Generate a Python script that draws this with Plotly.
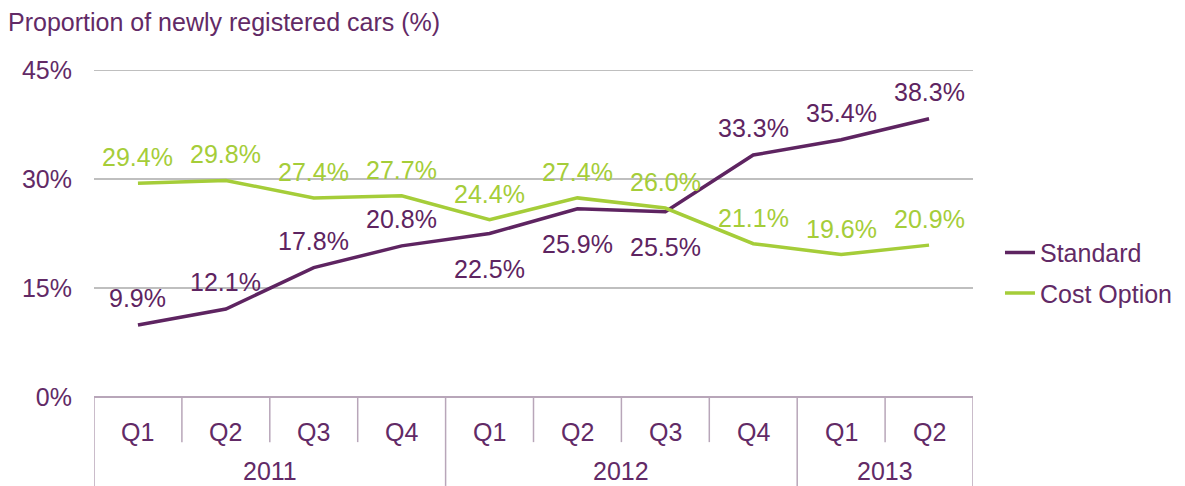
import plotly.graph_objects as go

quarters = ["Q1", "Q2", "Q3", "Q4", "Q1", "Q2", "Q3", "Q4", "Q1", "Q2"]
years = ["2011", "2012", "2013"]
year_spans = [(0, 3), (4, 7), (8, 9)]
standard = [9.9, 12.1, 17.8, 20.8, 22.5, 25.9, 25.5, 33.3, 35.4, 38.3]
cost_option = [29.4, 29.8, 27.4, 27.7, 24.4, 27.4, 26.0, 21.1, 19.6, 20.9]
standard_label_above = [True, True, True, True, False, False, False, True, True, True]
y_ticks = [0, 15, 30, 45]

PURPLE = "#5E2461"
GREEN = "#A5CD39"
TEXT = "#622A66"
SEP = "#B8A6B9"
GRID = "#BFBFBF"
FONT = "Liberation Sans, Arial, sans-serif"
FS = 25

# page body has an 8px default margin; size the figure to fit the window
W, H = 1177, 478

x = list(range(len(quarters)))

fig = go.Figure()
fig.add_trace(go.Scatter(x=x, y=standard, mode="lines", name="Standard", legendgroup="s",
                         line=dict(color=PURPLE, width=3.5)))
fig.add_trace(go.Scatter(x=x, y=cost_option, mode="lines", name="Cost Option", legendgroup="c",
                         line=dict(color=GREEN, width=3.5)))

ann = []
for xi, v, up in zip(x, standard, standard_label_above):
    ann.append(dict(x=xi, y=v, text=f"{v:.1f}%", showarrow=False, yanchor="middle",
                    yshift=27 if up else -35, font=dict(size=FS, color=PURPLE, family=FONT)))
for xi, v in zip(x, cost_option):
    ann.append(dict(x=xi, y=v, text=f"{v:.1f}%", showarrow=False, yanchor="middle",
                    yshift=26, font=dict(size=FS, color=GREEN, family=FONT)))

# category axis labels
for xi, q in zip(x, quarters):
    ann.append(dict(x=xi, y=-0.107, yref="paper", text=q, showarrow=False, yanchor="middle",
                    font=dict(size=FS, color=TEXT, family=FONT)))
for yr, (a, b) in zip(years, year_spans):
    ann.append(dict(x=(a + b) / 2, y=-0.226, yref="paper", text=yr, showarrow=False,
                    yanchor="middle", font=dict(size=FS, color=TEXT, family=FONT)))

shapes = []
shapes.append(dict(type="line", xref="paper", yref="y", x0=0, x1=1, y0=y_ticks[-1], y1=y_ticks[-1],
                   line=dict(color=GRID, width=2)))
year_bounds = {-0.5} | {b + 0.5 for _, b in year_spans}
for i in range(len(quarters) + 1):
    xb = i - 0.5
    y1 = -0.272 if xb in year_bounds else -0.138
    shapes.append(dict(type="line", xref="x", yref="paper", x0=xb, x1=xb, y0=0, y1=y1,
                       line=dict(color=SEP, width=1.5)))
shapes.append(dict(type="line", xref="x", yref="paper", x0=-0.5, x1=len(quarters) - 0.5,
                   y0=0, y1=0, line=dict(color=SEP, width=2)))

fig.update_layout(
    width=W, height=H,
    margin=dict(l=86, r=212, t=62, b=89, autoexpand=False),
    paper_bgcolor="white", plot_bgcolor="white",
    font=dict(family=FONT, color=TEXT, size=FS),
    title=dict(text="Proportion of newly registered cars (%)", x=0.0, xanchor="left",
               y=1 - 14 / H, yanchor="middle", font=dict(size=FS, color=TEXT, family=FONT)),
    xaxis=dict(range=[-0.5, len(quarters) - 0.5], showticklabels=False, showgrid=False,
               zeroline=False, showline=False, ticks="", automargin=False),
    yaxis=dict(range=[0, 45], tickvals=y_ticks, ticktext=[f"{t}%" for t in y_ticks],
               showgrid=True, gridcolor=GRID, gridwidth=2, zeroline=False, automargin=False,
               showline=False, ticks="", ticklen=0, tickfont=dict(size=FS, color=TEXT)),
    legend=dict(x=1.0307, xanchor="left", y=0.38, yanchor="middle",
                font=dict(size=FS, color=TEXT, family=FONT), tracegroupgap=5,
                bgcolor="rgba(0,0,0,0)"),
    annotations=ann, shapes=shapes,
    showlegend=True,
)
fig.update_yaxes(ticklabelstandoff=21)

fig.write_html("out.html")
